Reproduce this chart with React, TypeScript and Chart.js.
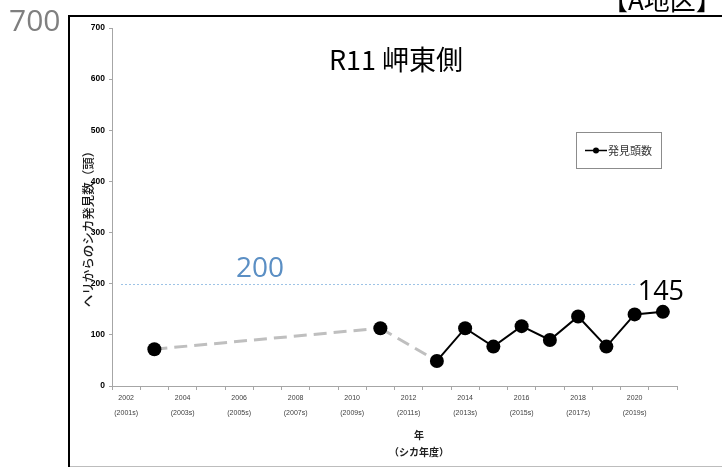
import { useEffect, useRef } from "react";
import { Chart, registerables } from "chart.js";

Chart.register(...registerables);

// ---- data ----
const years = [
  "2002", "2003", "2004", "2005", "2006", "2007", "2008", "2009", "2010", "2011",
  "2012", "2013", "2014", "2015", "2016", "2017", "2018", "2019", "2020", "2021",
];
const sightings: (number | null)[] = [
  null, 72, null, null, null, null, null, null, null, 113,
  null, 49, 113, 77, 117, 90, 136, 77, 140, 145,
];
const tickYears = ["2002", "2004", "2006", "2008", "2010", "2012", "2014", "2016", "2018", "2020"];
const tickSeasons = ["(2001s)", "(2003s)", "(2005s)", "(2007s)", "(2009s)", "(2011s)", "(2013s)", "(2015s)", "(2017s)", "(2019s)"];
const yMin = 0;
const yMax = 700;
const yStep = 100;
const threshold = 200;
const seriesLabel = "発見頭数";
const chartTitle = "R11 岬東側";
const areaLabel = "【A地区】";
const cornerLabel = "700";
const yTitle = "ヘリからのシカ発見数（頭）";
const xTitle = ["年", "（シカ年度）"];

const CJK = '"Noto Sans CJK JP", "Noto Sans", sans-serif';
const OPEN = '"Open Sans", "Noto Sans", sans-serif';

const overlay = {
  id: "overlay",
  beforeDatasetsDraw(chart: any) {
    const { ctx, chartArea, scales } = chart;
    const y = Math.round(scales.y.getPixelForValue(threshold)) + 0.5;
    ctx.save();
    ctx.strokeStyle = "#9dc3e6";
    ctx.lineWidth = 1;
    ctx.setLineDash([2, 2]);
    ctx.beginPath();
    ctx.moveTo(chartArea.left + 9, y);
    ctx.lineTo(chartArea.right, y);
    ctx.stroke();
    ctx.restore();
  },
  afterDraw(chart: any) {
    const { ctx, scales } = chart;
    ctx.save();

    // threshold label
    const ty = scales.y.getPixelForValue(threshold);
    ctx.font = `28px ${OPEN}`;
    ctx.fillStyle = "#5b8fc4";
    ctx.textAlign = "center";
    ctx.textBaseline = "middle";
    ctx.fillText(String(threshold), 260, ty - 15);

    // last value label
    const lastIdx = sightings.length - 1;
    const lv = sightings[lastIdx] as number;
    const lx = scales.x.getPixelForValue(lastIdx);
    const ly = scales.y.getPixelForValue(lv);
    ctx.font = `27px ${OPEN}`;
    const txt = String(lv);
    const w = ctx.measureText(txt).width;
    ctx.fillStyle = "#ffffff";
    ctx.fillRect(lx - 2 - w / 2 - 2, ly - 21 - 11, w + 4, 20);
    ctx.fillStyle = "#000000";
    ctx.fillText(txt, lx - 2, ly - 20);

    // title
    ctx.font = `27px ${CJK}`;
    ctx.fillStyle = "#000";
    ctx.fillText(chartTitle, 396, 60);

    // corner label
    ctx.font = `30px ${OPEN}`;
    ctx.fillStyle = "#7f7f7f";
    ctx.textAlign = "left";
    ctx.fillText(cornerLabel, 9, 22);

    // area label
    ctx.font = `26px ${CJK}`;
    ctx.fillStyle = "#000";
    ctx.textBaseline = "alphabetic";
    ctx.fillText(areaLabel, 602, 10);

    // y title
    ctx.save();
    ctx.translate(88, 226);
    ctx.rotate(-Math.PI / 2);
    ctx.font = `500 12.5px ${CJK}`;
    ctx.fillStyle = "#1a1a1a";
    ctx.textAlign = "center";
    ctx.textBaseline = "middle";
    ctx.fillText(yTitle, 0, 0);
    ctx.restore();

    // x title
    ctx.font = `bold 10px ${CJK}`;
    ctx.fillStyle = "#222";
    ctx.textAlign = "center";
    ctx.textBaseline = "middle";
    ctx.fillText(xTitle[0], 419, 435);
    ctx.fillText(xTitle[1], 419, 452);

    // legend
    ctx.strokeStyle = "#8c8c8c";
    ctx.lineWidth = 1;
    ctx.strokeRect(576.5, 132.5, 85, 36);
    ctx.strokeStyle = "#000";
    ctx.lineWidth = 1.5;
    ctx.beginPath();
    ctx.moveTo(585, 150.5);
    ctx.lineTo(607, 150.5);
    ctx.stroke();
    ctx.fillStyle = "#000";
    ctx.beginPath();
    ctx.arc(596, 150.5, 3, 0, Math.PI * 2);
    ctx.fill();
    ctx.font = `11px ${CJK}`;
    ctx.fillStyle = "#333";
    ctx.textAlign = "left";
    ctx.fillText(chart.data.datasets[0].label, 608, 151);

    // frame
    ctx.strokeStyle = "#000";
    ctx.lineWidth = 2;
    ctx.beginPath();
    ctx.moveTo(69, 467);
    ctx.lineTo(69, 16);
    ctx.lineTo(722, 16);
    ctx.stroke();
    ctx.strokeStyle = "#bdbdbd";
    ctx.lineWidth = 1;
    ctx.beginPath();
    ctx.moveTo(70, 466.5);
    ctx.lineTo(722, 466.5);
    ctx.stroke();

    ctx.restore();
  },
};

export default function App() {
  const ref = useRef<HTMLCanvasElement | null>(null);

  useEffect(() => {
    if (!ref.current) return;
    // a segment bridges missing years when the value just before its end point is missing
    const isGap = (c: any) => sightings[c.p1DataIndex - 1] == null;
    const chart = new Chart(ref.current, {
      type: "line",
      data: {
        labels: years,
        datasets: [
          {
            label: seriesLabel,
            data: sightings,
            spanGaps: true,
            borderColor: "#000",
            borderWidth: 2,
            pointRadius: 7,
            pointBackgroundColor: "#000",
            pointBorderColor: "#000",
            pointBorderWidth: 0,
            segment: {
              borderColor: (c: any) => (isGap(c) ? "#bfbfbf" : "#000"),
              borderDash: (c: any) => (isGap(c) ? [13, 7] : []),
              borderWidth: (c: any) => (isGap(c) ? 3 : 2),
            } as any,
          },
        ],
      },
      options: {
        animation: false,
        responsive: false,
        layout: { padding: { top: 28, right: 45, left: 0, bottom: 0 } },
        plugins: { legend: { display: false }, tooltip: { enabled: false } },
        scales: {
          x: {
            type: "category",
            offset: true,
            afterFit: (s: any) => {
              s.height = 82;
            },
            grid: {
              offset: true,
              drawOnChartArea: false,
              drawTicks: true,
              tickLength: 4,
              color: "#a6a6a6",
            },
            border: { color: "#a6a6a6", width: 1 },
            ticks: {
              autoSkip: false,
              maxRotation: 0,
              padding: 1,
              color: "#404040",
              font: { size: 7, family: '"Liberation Sans", Arial, sans-serif', lineHeight: 2.14 },
              callback: (_v: any, index: number) => {
                const i = tickYears.indexOf(years[index]);
                return i >= 0 ? [tickYears[i], tickSeasons[i]] : "";
              },
            },
          },
          y: {
            min: yMin,
            max: yMax,
            afterFit: (s: any) => {
              s.width = 112;
            },
            grid: {
              drawOnChartArea: false,
              drawTicks: true,
              tickLength: 3,
              color: "#a6a6a6",
            },
            border: { color: "#a6a6a6", width: 1 },
            ticks: {
              stepSize: yStep,
              padding: 4,
              color: "#000",
              font: { size: 8.5, weight: "bold", family: '"Liberation Sans", Arial, sans-serif' },
            },
          },
        },
      },
      plugins: [overlay],
    });
    return () => chart.destroy();
  }, []);

  return (
    <div style={{ position: "absolute", left: 0, top: 0, width: 722, height: 468, background: "#fff" }}>
      <canvas ref={ref} width={722} height={468} style={{ width: 722, height: 468, display: "block" }} />
    </div>
  );
}
